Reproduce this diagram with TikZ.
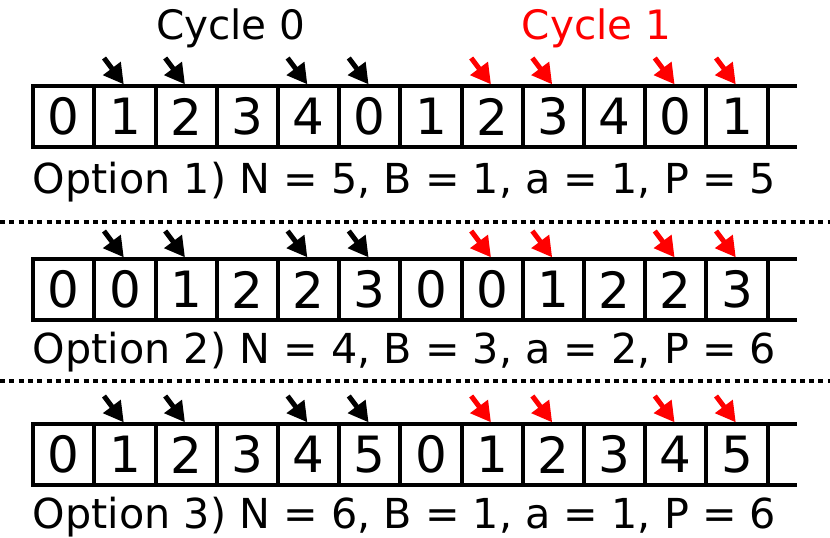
\documentclass[tikz,border=0pt]{standalone}
\usepackage{fontspec}
\setmainfont{DejaVu Sans}
\usetikzlibrary{arrows.meta}
\tikzset{
  cell/.style={draw, line width=4pt, minimum width=61.2pt, minimum height=61pt,
    inner sep=0pt, outer sep=0pt, font=\fontsize{50}{60}\selectfont},
  ext/.style={line width=4pt},
  ptr/.style={-{Triangle[length=20pt,width=21pt]}, line width=5pt, shorten >=2pt},
  optlabel/.style={anchor=base west, inner sep=0pt, font=\fontsize{41.3}{49}\selectfont},
  cyclabel/.style={anchor=base, inner sep=0pt, font=\fontsize{40.5}{47}\selectfont},
  sep/.style={line width=4pt, dash pattern=on 5pt off 4.3pt}
}
\begin{document}
\begin{tikzpicture}[x=1pt,y=-1pt]
\useasboundingbox (0,0) rectangle (830,538);
% cycle labels
\node[cyclabel] (cyc0) at (230.8,39.5) {Cycle 0};
\node[cyclabel, text=red] (cyc1) at (596.5,39.5) {Cycle 1};
% rows
\foreach \r/\top/\seq in {1/86/{0,1,2,3,4,0,1,2,3,4,0,1},
                          2/259/{0,0,1,2,2,3,0,0,1,2,2,3},
                          3/424/{0,1,2,3,4,5,0,1,2,3,4,5}}{
  \foreach \d [count=\i from 0] in \seq {
    \node[cell] (c\r-\i) at ({33.2+61.2*(\i+0.5)},{\top+30.5}) {\d};
  }
  \draw[ext] (c\r-11.north east) -- ++(29.5,0) coordinate (e\r n);
  \draw[ext] (c\r-11.south east) -- ++(29.5,0) coordinate (e\r s);
  \foreach \k in {1,2,4,5} {
    \coordinate (t\r-\k) at ([shift={(-21,-28)}]c\r-\k.north);
    \draw[ptr] (t\r-\k) -- (c\r-\k.north);
  }
  \foreach \k in {7,8,10,11} {
    \coordinate (t\r-\k) at ([shift={(-21,-28)}]c\r-\k.north);
    \draw[ptr, red] (t\r-\k) -- (c\r-\k.north);
  }
}
% option labels
\node[optlabel] (opt1) at (32.7,193) {Option 1) N = 5, B = 1, a = 1, P = 5};
\node[optlabel] (opt2) at (32.7,363) {Option 2) N = 4, B = 3, a = 2, P = 6};
\node[optlabel] (opt3) at (32.7,528) {Option 3) N = 6, B = 1, a = 1, P = 6};
% separators
\coordinate (s1l) at (0,221.5); \coordinate (s1r) at (830,221.5);
\coordinate (s2l) at (0,381); \coordinate (s2r) at (830,381);
\draw[sep] (s1l) -- (s1r);
\draw[sep] (s2l) -- (s2r);
\end{tikzpicture}
\end{document}
